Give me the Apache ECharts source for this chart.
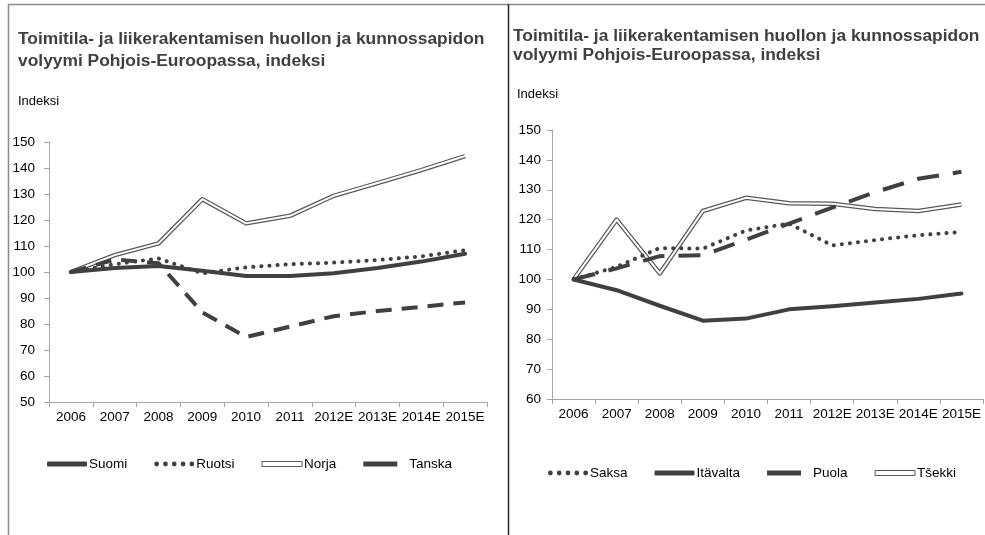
<!DOCTYPE html>
<html><head><meta charset="utf-8">
<script src="https://cdn.jsdelivr.net/npm/echarts@6/dist/echarts.min.js"></script>
<style>html,body{margin:0;padding:0;background:#fff}#c{width:985px;height:535px}</style>
</head><body><div id="c"></div>
<script>
var years = ['2006','2007','2008','2009','2010','2011','2012E','2013E','2014E','2015E'];
var titleText = 'Toimitila- ja liikerakentamisen huollon ja kunnossapidon\nvolyymi Pohjois-Euroopassa, indeksi';
var yName = 'Indeksi';
// Left panel
var suomi  = [100, 101.5, 102.3, 100.5, 98.5, 98.5, 99.5, 101.5, 104, 107];
var ruotsi = [100, 103, 105.2, 99.5, 101.8, 103, 103.6, 104.6, 106, 108.4];
var norja  = [100, 106.5, 111, 128, 118.7, 121.6, 129.3, 134.2, 139.2, 144.6];
var tanska = [100, 104.8, 103.4, 84.5, 75, 79, 83, 85, 86.6, 88.3];
// Right panel
var saksa    = [100, 104.2, 110.5, 110.3, 116.4, 118.7, 111.4, 113.2, 114.8, 115.9];
var itavalta = [100, 96.4, 91.2, 86.2, 86.9, 90, 91, 92.3, 93.5, 95.3];
var puola    = [100, 103.7, 107.8, 108.1, 113.3, 118.7, 124, 129.2, 133.7, 136];
var tsekki   = [100, 120, 102, 122.9, 127.3, 125.5, 125.3, 123.6, 122.9, 125.1];

var dark = '#404040';
var FONT = '"Liberation Sans", Arial, sans-serif';
var chart = echarts.init(document.getElementById('c'), null, {renderer:'canvas'});

function xAxis(gi){
  return {type:'category', gridIndex:gi, data:years, boundaryGap:true,
    axisLine:{lineStyle:{color:'#a6a6a6', width:1}},
    axisTick:{show:true, length:5, lineStyle:{color:'#a6a6a6'}},
    axisLabel:{interval:0, color:'#000', fontSize:13.5, fontFamily:FONT, margin:8},
    splitLine:{show:false}};
}
function yAxis(gi, min, margin){
  return {type:'value', gridIndex:gi, min:min, max:150, interval:10,
    axisLine:{show:true, lineStyle:{color:'#a6a6a6', width:1}},
    axisTick:{show:true, length:5, lineStyle:{color:'#a6a6a6'}},
    axisLabel:{color:'#000', fontSize:13.5, fontFamily:FONT, margin:margin},
    splitLine:{show:false}};
}
function line(name, data, gi, style, extra){
  var s = {name:name, type:'line', xAxisIndex:gi, yAxisIndex:gi, data:data,
    symbol:'none', smooth:false, lineStyle:style, itemStyle:{color:style.color}, z:3};
  if (extra) for (var k in extra) s[k]=extra[k];
  return s;
}
var solid = {color:dark, width:4, cap:'round', join:'round'};
var dotted = {color:dark, width:4, type:[0.1,8], cap:'round'};
var dashedL = {color:dark, width:4, type:[16,10], cap:'butt'};
var dashedR = {color:dark, width:4, type:[22,14], cap:'butt'};
var dblOuter = {color:'#595959', width:4.5, join:'round'};
var dblInner = {color:'#ffffff', width:2, join:'round'};

var legendText = {fontSize:13.5, fontFamily:FONT, color:'#000', padding:[0,0,0,-3]};
var iconSolid = {icon:'roundRect', itemStyle:{color:dark, borderWidth:0}};
var dotsPath = 'path://' + [2.5,11,19.5,28,36.5].map(function(c){
  return 'M'+(c-2.3)+',2.5a2.3,2.3 0 1,0 4.6,0a2.3,2.3 0 1,0 -4.6,0Z';}).join('');
var iconDots = {icon:dotsPath, itemStyle:{color:dark, borderWidth:0}};
var iconDash = {icon:'path://M0,0h34v5h-34z', itemStyle:{color:dark, borderWidth:0}};
var iconDouble = {icon:'rect', itemStyle:{color:'#fff', borderColor:'#595959', borderWidth:1}};
function li(name, ic, extra){
  var o = {name:name, icon:ic.icon, itemStyle:ic.itemStyle};
  if (extra) for (var k in extra) o[k]=extra[k];
  return o;
}

var option = {
  animation:false,
  backgroundColor:'#fff',
  grid:[
    {left:49, right:985-487, top:142, bottom:535-402, containLabel:false},
    {left:552, right:2, top:130, bottom:535-399, containLabel:false}
  ],
  xAxis:[xAxis(0), xAxis(1)],
  yAxis:[yAxis(0,50,14), yAxis(1,60,11)],
  legend:[
    {left:47, top:457, padding:0, itemWidth:40, itemHeight:5, itemGap:27, symbolKeepAspect:true, textStyle:legendText,
     data:[li('Suomi',iconSolid), li('Ruotsi',iconDots), li('Norja',iconDouble), li('Tanska',iconDash,{textStyle:{padding:[0,0,0,4]}})]},
    {left:548, top:466, padding:0, itemWidth:40, itemHeight:5, itemGap:27, symbolKeepAspect:true, textStyle:legendText,
     data:[li('Saksa',iconDots), li('Itävalta',iconSolid), li('Puola',iconDash,{textStyle:{padding:[0,0,0,4]}}), li('Tšekki',iconDouble)]}
  ],
  series:[
    line('Norja', norja, 0, dblOuter),
    line('', norja, 0, dblInner, {silent:true, z:4}),
    line('Tanska', tanska, 0, dashedL, {z:5}),
    line('Ruotsi', ruotsi, 0, dotted, {z:5}),
    line('Suomi', suomi, 0, solid, {z:6}),
    line('Tšekki', tsekki, 1, dblOuter),
    line('', tsekki, 1, dblInner, {silent:true, z:4}),
    line('Saksa', saksa, 1, dotted, {z:5}),
    line('Itävalta', itavalta, 1, solid, {z:5}),
    line('Puola', puola, 1, dashedR, {z:6})
  ],
  graphic:[
    {type:'line', shape:{x1:8.5, y1:4.5, x2:985, y2:4.5}, style:{stroke:'#8c8c8c', lineWidth:1.5}, silent:true},
    {type:'line', shape:{x1:8.5, y1:4, x2:8.5, y2:535}, style:{stroke:'#8c8c8c', lineWidth:1.5}, silent:true},
    {type:'line', shape:{x1:508.5, y1:4, x2:508.5, y2:535}, style:{stroke:'#262626', lineWidth:1.5}, silent:true},
    {type:'text', left:18, top:28, style:{text:titleText, font:'bold 17.4px '+FONT, fill:'#404040', lineHeight:22}},
    {type:'text', left:513, top:27, style:{text:titleText, font:'bold 17.4px '+FONT, fill:'#404040', lineHeight:19}},
    {type:'text', left:18, top:95, style:{text:yName, font:'13px '+FONT, fill:'#000'}},
    {type:'text', left:517, top:88, style:{text:yName, font:'13px '+FONT, fill:'#000'}}
  ]
};
chart.setOption(option);
</script></body></html>
